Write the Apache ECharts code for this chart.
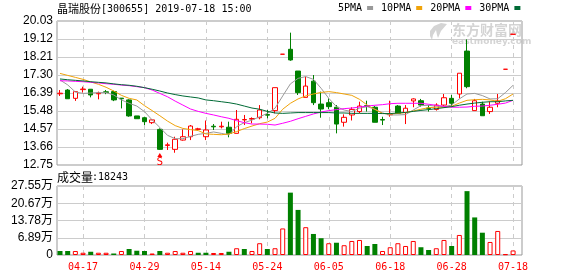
<!DOCTYPE html>
<html><head><meta charset="utf-8">
<script src="https://cdn.jsdelivr.net/npm/echarts@6/dist/echarts.min.js"></script>
<style>html,body{margin:0;padding:0;background:#fff}#c{width:578px;height:276px}</style>
</head><body><div id="c"></div>
<script>
const stockName = '晶瑞股份';
const stockCode = '[300655] 2019-07-18 15:00';
const volumeTitle = '成交量';
const volumeNow = ':18243';
const dates = ['04-12','04-15','04-16','04-17','04-18','04-19','04-22','04-23','04-24','04-25','04-26','04-29','04-30','05-06','05-07','05-08','05-09','05-10','05-13','05-14','05-15','05-16','05-17','05-20','05-21','05-22','05-23','05-24','05-27','05-28','05-29','05-30','05-31','06-03','06-04','06-05','06-06','06-10','06-11','06-12','06-13','06-14','06-17','06-18','06-19','06-20','06-21','06-24','06-25','06-26','06-27','06-28','07-01','07-02','07-03','07-04','07-05','07-08','07-17','07-18'];
const openP  = [16.35,16.54,16.12,16.56,16.58,16.35,16.45,16.46,16.13,16.04,15.23,15.14,14.89,14.55,13.74,13.54,14.01,14.18,14.55,14.18,14.71,14.68,14.66,14.35,15.03,15.07,15.14,15.30,15.50,18.35,18.60,17.50,16.17,16.99,15.83,15.90,15.67,14.91,15.28,15.45,15.75,15.67,15.05,15.29,15.73,15.41,15.99,16.00,15.63,15.56,15.78,16.12,16.34,18.51,15.50,15.83,15.45,15.87,17.59,19.36];
const closeP = [16.38,16.10,16.46,16.59,16.29,16.38,16.42,16.04,16.10,15.23,15.09,14.94,15.03,13.54,13.77,14.05,14.18,14.72,14.58,14.52,14.68,14.71,14.35,15.06,15.05,15.10,15.53,15.27,16.66,18.35,18.06,16.41,16.74,15.90,15.58,15.70,14.82,15.16,15.56,15.73,15.72,14.91,15.02,15.32,15.36,15.62,16.09,15.78,15.61,15.78,16.15,15.87,17.39,16.71,16.00,15.24,15.67,15.99,17.59,19.36];
const lowP   = [16.24,16.10,15.99,16.41,16.17,16.07,16.33,15.98,15.61,15.19,15.09,14.77,14.82,13.51,13.51,13.37,13.98,14.01,14.50,14.01,14.52,14.60,14.15,14.35,14.77,14.86,15.06,15.11,15.36,18.35,18.02,16.29,16.17,15.78,15.14,15.57,14.35,14.69,15.00,15.36,15.45,14.91,14.77,15.19,15.33,14.82,15.67,15.70,15.45,15.50,15.73,15.67,16.12,16.63,15.50,15.24,15.33,15.67,17.59,19.36];
const highP  = [16.54,16.59,16.46,16.71,16.58,16.46,16.54,16.51,16.13,16.07,15.23,15.19,15.06,14.60,13.88,14.18,14.55,14.77,14.63,15.00,14.82,14.94,14.94,15.53,15.28,15.16,15.78,15.53,16.66,18.35,19.44,17.50,17.22,17.30,16.46,16.12,15.78,15.31,15.67,15.95,16.00,15.73,15.19,16.00,15.78,15.78,16.12,16.09,15.78,15.87,16.34,16.29,17.39,19.10,16.09,15.95,15.95,16.34,17.59,19.36];
const volume = [1.6,1.6,1.6,0.9,1.3,0.9,0.9,0.6,1.6,2.4,1.7,1.6,0.6,1.6,0.9,1.6,0.9,1.6,0.9,0.9,0.8,0.8,1.3,2.7,2.4,1.6,4.7,2.4,2.7,10.6,24.9,18.0,11.1,8.4,6.7,4.7,4.9,3.9,5.6,6.0,3.6,4.4,1.6,3.1,4.7,3.6,5.6,3.1,2.0,2.7,6.0,3.6,8.0,25.5,15.0,8.9,5.2,9.6,0.3,1.82];
const ma5  = [17.05,16.80,16.44,16.37,16.39,16.41,16.41,16.29,16.04,15.87,15.73,15.45,15.03,14.65,14.25,14.08,14.08,14.20,14.30,14.35,14.42,14.35,14.27,14.69,14.89,15.02,15.19,15.36,15.62,16.24,16.85,17.13,17.22,17.08,16.63,16.12,15.70,15.53,15.45,15.62,15.70,15.57,15.38,15.28,15.28,15.30,15.53,15.75,15.77,15.72,15.70,15.78,16.09,16.34,16.37,16.26,16.09,16.10,16.41,16.78];
const ma10 = [17.38,17.28,17.18,17.08,16.95,16.83,16.68,16.49,16.27,16.12,16.04,15.75,15.50,15.24,14.97,14.74,14.60,14.54,14.49,14.32,14.30,14.28,14.32,14.44,14.59,14.72,14.84,14.92,15.11,15.57,15.87,16.09,16.24,16.34,16.42,16.46,16.41,16.34,16.27,16.07,15.78,15.56,15.36,15.33,15.36,15.40,15.48,15.57,15.65,15.67,15.67,15.72,15.88,16.02,16.05,16.07,16.04,15.97,16.10,16.34];
const ma20 = [17.01,17.00,16.98,16.96,16.93,16.90,16.86,16.83,16.79,16.76,16.71,16.66,16.54,16.37,16.20,15.98,15.78,15.58,15.46,15.36,15.28,15.19,15.11,14.99,14.89,14.82,14.82,14.81,14.77,14.86,14.96,15.09,15.21,15.33,15.43,15.50,15.55,15.60,15.63,15.68,15.73,15.77,15.80,15.85,15.87,15.87,15.87,15.87,15.82,15.77,15.72,15.67,15.67,15.68,15.72,15.73,15.77,15.82,15.88,16.02];
const ma30 = [17.10,17.06,17.03,17.00,16.96,16.93,16.90,16.85,16.81,16.78,16.73,16.66,16.58,16.49,16.39,16.31,16.24,16.19,16.14,16.04,16.00,15.95,15.90,15.83,15.73,15.63,15.57,15.46,15.38,15.36,15.38,15.40,15.40,15.40,15.40,15.40,15.38,15.38,15.36,15.36,15.36,15.36,15.35,15.35,15.38,15.41,15.46,15.51,15.55,15.60,15.65,15.70,15.77,15.83,15.88,15.92,15.95,15.95,15.99,16.02];
const maNames = ['5PMA','10PMA','20PMA','30PMA'];
const priceTickLabels = ['12.75','13.66','14.57','15.48','16.39','17.30','18.21','19.12','20.03'];
const volTickLabels = ['0','6.89万','13.78万','20.67万','27.55万'];
const dateTickIndex = [3,11,19,27,35,43,51,59];
const signalIndex = 13, signalText = 'S';

const UP = '#ff0000', DOWN = '#008000';
const maColors = ['#999999','#f0a30a','#ff00ff','#006a35'];
const mono = '"DejaVu Sans Mono", "Liberation Mono", monospace';
const cjk = '"Noto Sans CJK SC", sans-serif';

const chart = echarts.init(document.getElementById('c'), null, {renderer:'canvas'});
const xCommon = {type:'value', min:-0.39, max:60.16, axisLine:{show:false},
  axisTick:{show:false, customValues:dateTickIndex},
  splitLine:{show:true, lineStyle:{color:'#cccccc', type:[4,4], width:1}}};
const candleData = dates.map((d,i)=>[i, openP[i], closeP[i], lowP[i], highP[i]]);
const volData = volume.map((v,i)=>{
  const up = i>0 && closeP[i] >= closeP[i-1];
  return {value:[i,v], itemStyle: up ? {color:'#ffffff', borderColor:UP, borderWidth:1} : {color:DOWN, borderWidth:0}};
});
const maSeries = [ma5,ma10,ma20,ma30].map((arr,k)=>({
  name: maNames[k], type:'line', xAxisIndex:0, yAxisIndex:0,
  data: arr.map((v,i)=>[i,v]), symbol:'none', showSymbol:false,
  lineStyle:{width:1, color:maColors[k]}, itemStyle:{color:maColors[k]}, z:3, silent:true
}));

chart.setOption({
  animation:false,
  backgroundColor:'#ffffff',
  grid:[
    {left:57, top:21, width:465, height:144, show:true, borderColor:'#999999', borderWidth:1},
    {left:57, top:186, width:465, height:69, show:true, borderColor:'#999999', borderWidth:1}
  ],
  legend:{data:maNames, left:338, top:3, padding:0, align:'right', itemWidth:6, itemHeight:4, itemGap:8,
    icon:'rect', selectedMode:false, textStyle:{fontFamily:mono, fontSize:10, color:'#000'}},
  xAxis:[
    Object.assign({gridIndex:0, axisLabel:{show:false, customValues:dateTickIndex}}, xCommon),
    Object.assign({gridIndex:1, axisLabel:{show:true, customValues:dateTickIndex, margin:7,
      color:UP, fontFamily:mono, fontSize:10, formatter:v=>dates[Math.round(v)]}}, xCommon)
  ],
  yAxis:[
    {type:'value', gridIndex:0, min:12.75, max:20.03, interval:0.91, axisLine:{show:false}, axisTick:{show:false},
     splitLine:{lineStyle:{color:'#cccccc'}},
     axisLabel:{margin:4, color:'#000', fontSize:12, fontFamily:'"Liberation Sans", Arial, sans-serif',
       formatter:(v,idx)=>priceTickLabels[idx]}},
    {type:'value', gridIndex:1, min:0, max:27.55, interval:6.8875, axisLine:{show:false}, axisTick:{show:false},
     splitLine:{lineStyle:{color:'#cccccc'}},
     axisLabel:{margin:4, color:'#000', fontSize:12, fontFamily:'"Liberation Sans", Arial, "Noto Sans CJK SC", sans-serif',
       formatter:(v,idx)=>volTickLabels[idx]}}
  ],
  graphic:[
    {type:'text', x:57, y:9, style:{text:stockName, font:'11px '+cjk, fill:'#000', verticalAlign:'middle'}},
    {type:'text', x:101, y:9, style:{text:stockCode, font:'10px '+mono, fill:'#000', verticalAlign:'middle'}},
    {type:'text', x:57, y:177, style:{text:volumeTitle, font:'12px '+cjk, fill:'#000', verticalAlign:'middle'}},
    {type:'text', x:92, y:177, style:{text:volumeNow, font:'10px '+mono, fill:'#000', verticalAlign:'middle'}},
    {type:'polygon', z:-1, shape:{points:[[441,23],[434,26],[430,31],[430,36],[432,40],[433,35],[436,30],[437,35],[438,38],[441,31],[447,24]]},
     style:{fill:'#d4d4d4'}},
    {type:'text', x:452, y:30, z:-1, style:{text:'东方财富网', font:'bold 14px '+cjk, fill:'#d4d4d4', verticalAlign:'middle'}},
    {type:'text', x:452, y:42, z:-1, style:{text:'eastmoney.com', font:'bold 9px "DejaVu Sans", sans-serif', fill:'#d4d4d4', verticalAlign:'middle'}}
  ],
  series:[
    {type:'candlestick', xAxisIndex:0, yAxisIndex:0, data:candleData, barWidth:5,
     itemStyle:{color:'#ffffff', color0:DOWN, borderColor:UP, borderColor0:DOWN, borderWidth:1},
     markPoint:{silent:true, data:[{coord:[signalIndex, lowP[signalIndex]], symbol:'triangle', symbolSize:[5,4], symbolOffset:[0,5],
       itemStyle:{color:UP},
       label:{show:true, formatter:signalText, position:'bottom', distance:0, color:UP, fontSize:11, fontFamily:mono}}]}},
    ...maSeries,
    {type:'bar', xAxisIndex:1, yAxisIndex:1, data:volData, barWidth:5}
  ]
});
</script></body></html>
